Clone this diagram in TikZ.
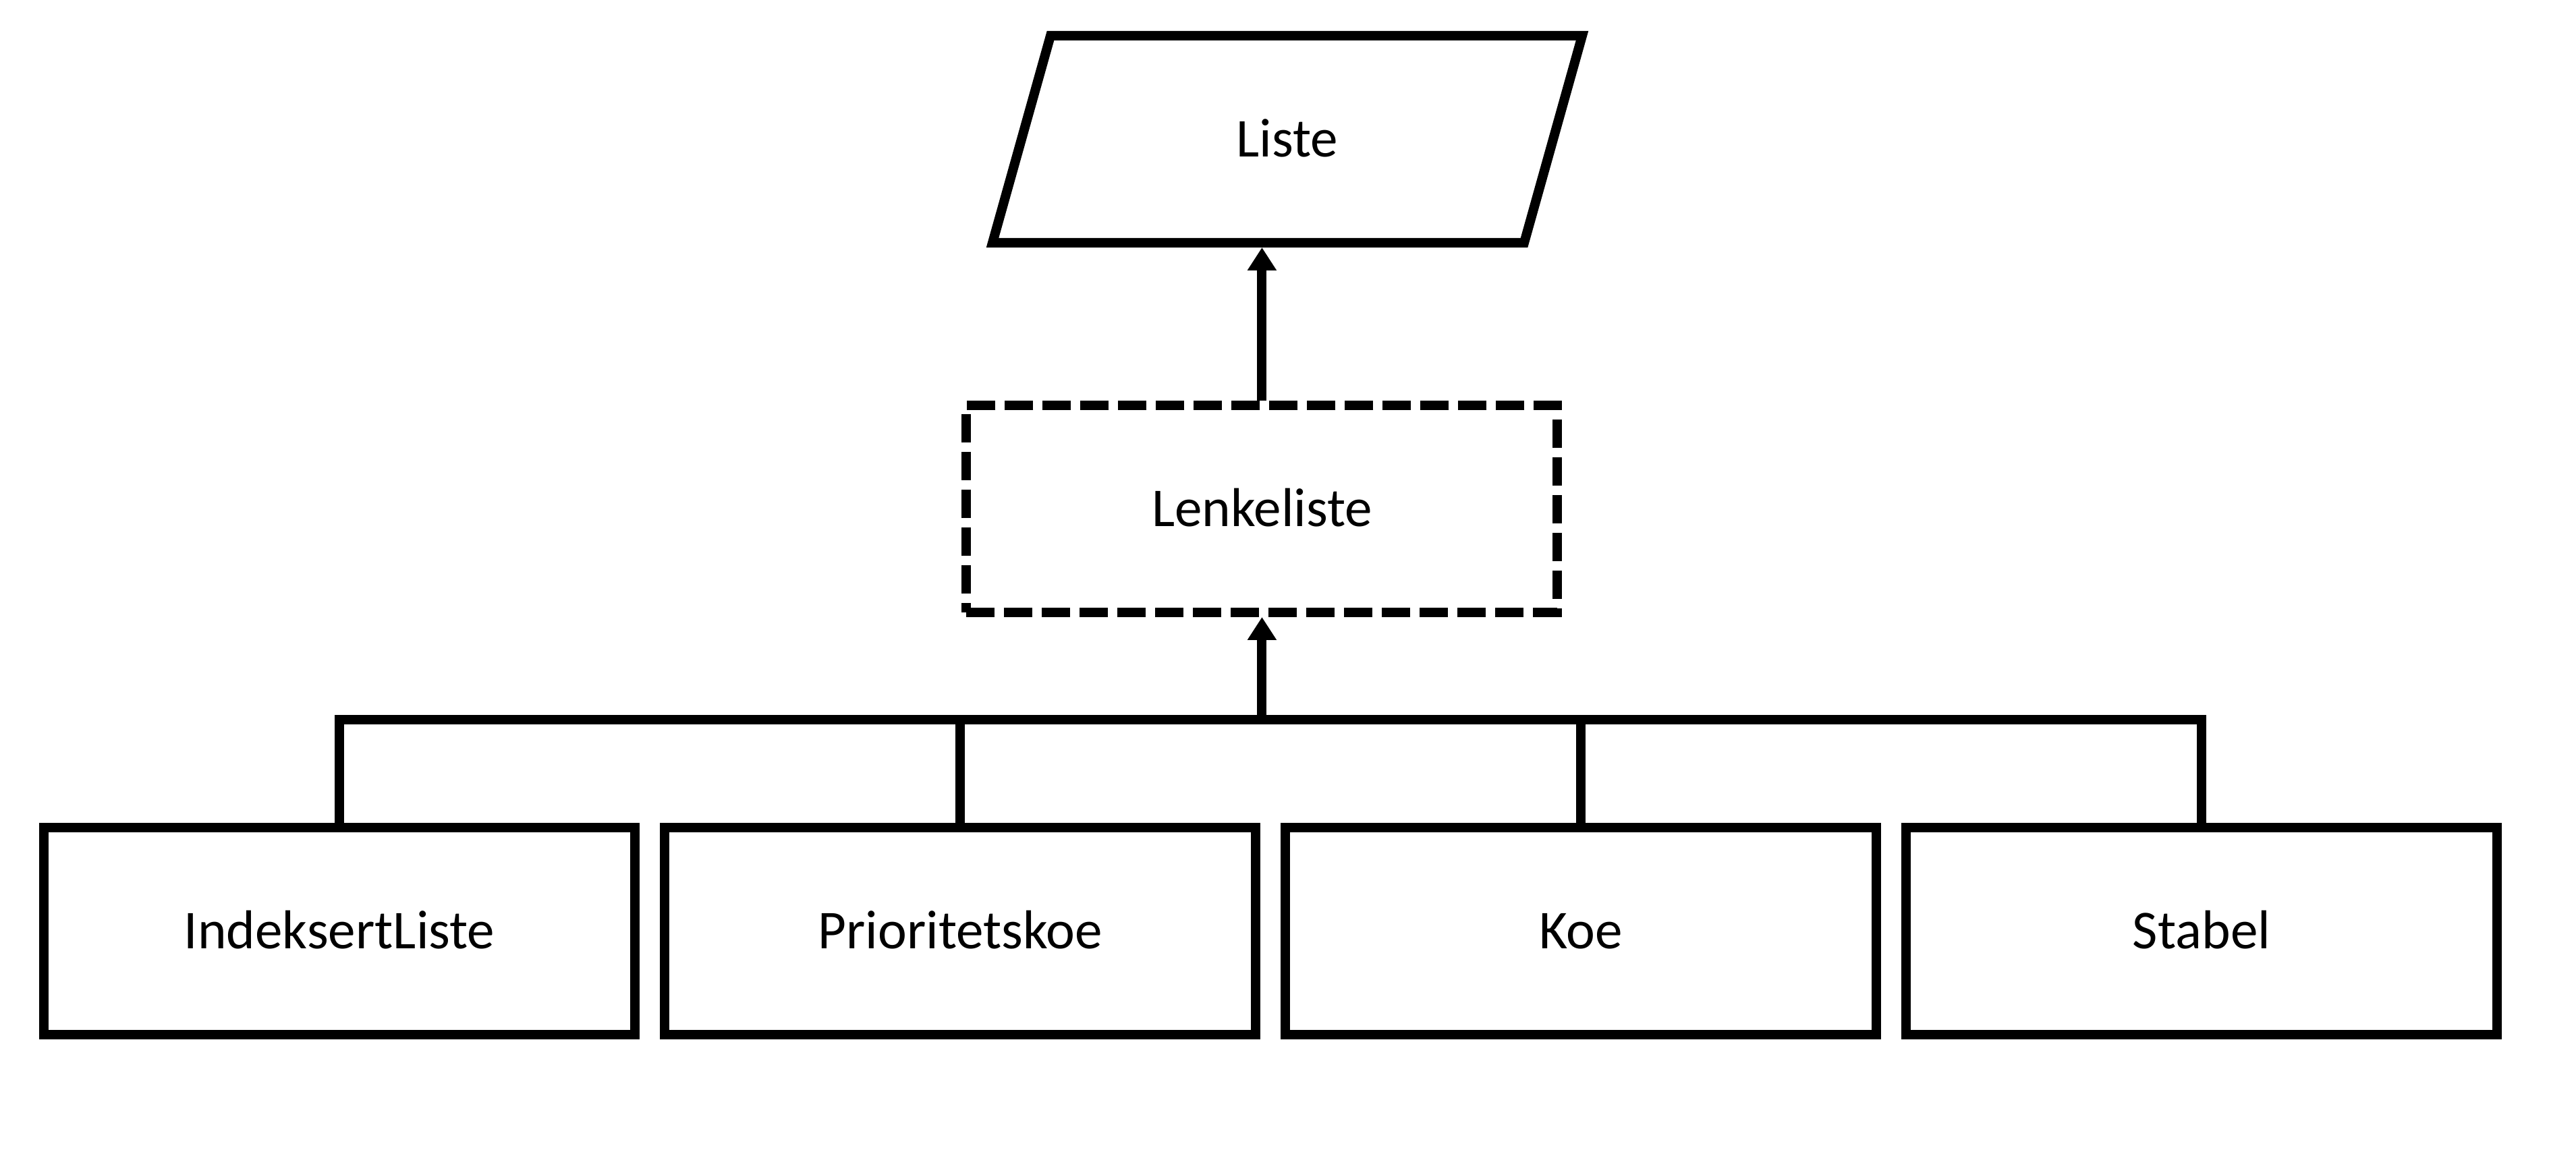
\documentclass[tikz,border=0pt]{standalone}
\usepackage{fontspec}
\setmainfont{Carlito}
\usetikzlibrary{arrows.meta}

\begin{document}
\begin{tikzpicture}[
box/.style={rectangle, minimum width=219pt, minimum height=76.75pt, inner sep=0pt, line width=3.5pt, draw=black, font=\fontsize{20.3pt}{24pt}\selectfont, text height=13pt, text depth=0pt},
conn/.style={line width=3.5pt, color=black},
arr/.style={conn, -{Triangle[width=10.25pt, length=8.5pt]}}]
\useasboundingbox (0pt, 0pt) rectangle (954.5pt, -426.75pt);
\node (1) [box, draw=none, outer sep=0pt, minimum width=197pt] at (477pt, -51.6pt) {Liste};
\draw [conn] ([xshift=10.75pt]1.north west) -- ([xshift=10.75pt]1.north east) -- ([xshift=-10.75pt]1.south east) -- ([xshift=-10.75pt]1.south west) -- cycle;
\node (2) [box, dash pattern=on 10.5pt off 3.5pt] at (467.6pt, -188.6pt) {Lenkeliste};
\node (3) [box] at (125.75pt, -345.1pt) {IndeksertListe};
\node (4) [box] at (355.75pt, -345.1pt) {Prioritetskoe};
\node (5) [box] at (585.75pt, -345.1pt) {Koe};
\node (6) [box] at (815.75pt, -345.1pt) {Stabel};
\coordinate (b) at (467.6pt, -266.75pt);
\coordinate (t) at ([yshift=-1.75pt]1.south);
\draw [conn] (3.north) |- (b);
\draw [conn] (4.north) |- (b);
\draw [conn] (5.north) |- (b);
\draw [conn] (6.north) |- (b);
\draw [arr] (b) -- (2.south);
\draw [arr] (2.north) -- (2.north |- t);
\end{tikzpicture}
\end{document}
